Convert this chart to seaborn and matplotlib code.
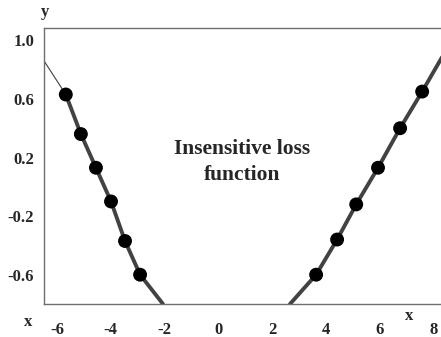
import matplotlib
matplotlib.use("Agg")
import matplotlib.pyplot as plt
import pandas as pd
import seaborn as sns

# sample points
left_x = [-5.67, -5.11, -4.55, -3.99, -3.47, -2.91]
left_y = [0.63, 0.36, 0.13, -0.10, -0.37, -0.60]
right_x = [3.63, 4.41, 5.12, 5.93, 6.75, 7.57]
right_y = [-0.60, -0.36, -0.12, 0.13, 0.40, 0.65]

# line ends where the curve leaves the plot
left_end_x, left_end_y = -2.06, -0.80
right_end_x, right_end_y = 2.66, -0.80
right_top_x, right_top_y = 8.45, 0.93
tail_x = [-6.48, -5.67]
tail_y = [0.86, 0.63]

x_ticks = [-6, -4, -2, 0, 2, 4, 6, 8]
y_ticks = [1.0, 0.6, 0.2, -0.2, -0.6]
y_tick_labels = ["1.0", "0.6", "0.2", "-0.2", "-0.6"]

sns.set_theme(style="white")
plt.rcParams["font.family"] = ["Liberation Serif", "DejaVu Serif"]
plt.rcParams["font.weight"] = "bold"

left = pd.DataFrame({"x": left_x + [left_end_x], "y": left_y + [left_end_y]})
right = pd.DataFrame({"x": [right_end_x] + right_x + [right_top_x],
                      "y": [right_end_y] + right_y + [right_top_y]})
pts = pd.DataFrame({"x": left_x + right_x, "y": left_y + right_y})

fig = plt.figure(figsize=(4.41, 3.37), dpi=100)
ax = fig.add_axes([44 / 441, 33 / 337, 1 - 44 / 441, (304 - 28) / 337])

LINE = "#424242"
ax.plot(tail_x, tail_y, color=LINE, lw=0.8)
sns.lineplot(data=left, x="x", y="y", ax=ax, color=LINE, lw=2.8, sort=False)
sns.lineplot(data=right, x="x", y="y", ax=ax, color=LINE, lw=2.8, sort=False)
sns.scatterplot(data=pts, x="x", y="y", ax=ax, color="black", s=100,
                edgecolor="none", zorder=3)

ax.set_xlim(-6.48, 8.27)
ax.set_ylim(-0.80, 1.084)
ax.set_xticks(x_ticks)
ax.set_xticklabels([str(t) for t in x_ticks], fontsize=12, fontweight="bold")
ax.set_yticks(y_ticks)
ax.set_yticklabels(y_tick_labels, fontsize=12, fontweight="bold")
ax.tick_params(axis="x", length=0, pad=13)
ax.tick_params(axis="y", length=0, pad=7)
ax.set_xlabel("")
ax.set_ylabel("")

for side in ["left", "top", "bottom"]:
    ax.spines[side].set_color("#6e6e6e")
    ax.spines[side].set_linewidth(1.0)
ax.spines["right"].set_visible(False)

ax.text(0.50, 0.515, "Insensitive loss\nfunction", transform=ax.transAxes,
        ha="center", va="center", fontsize=15.5, fontweight="bold",
        linespacing=1.4)

fig.text(28 / 441, 1 - 322 / 337, "x", ha="center", va="center",
         fontsize=12, fontweight="bold")
fig.text(409 / 441, 1 - 316 / 337, "x", ha="center", va="center",
         fontsize=12, fontweight="bold")
fig.text(45 / 441, 1 - 12 / 337, "y", ha="center", va="center",
         fontsize=12, fontweight="bold")

fig.savefig("out.png", dpi=100)
